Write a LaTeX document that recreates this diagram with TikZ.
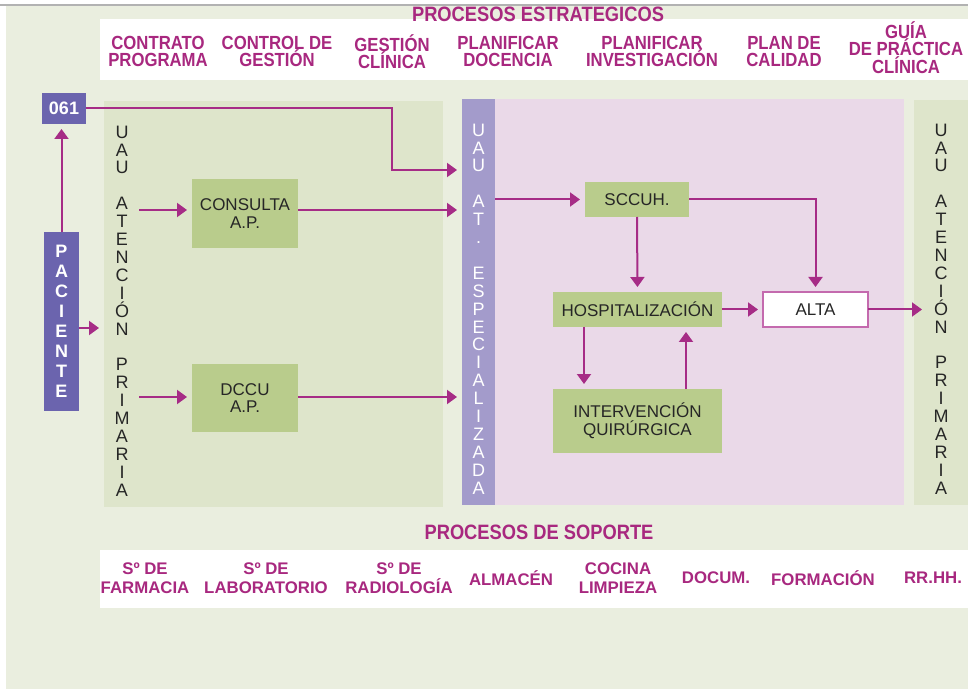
\documentclass[tikz,border=0pt]{standalone}
\usepackage{fontspec}
\setmainfont{Liberation Sans}
\newfontfamily\condfont[FakeStretch=0.88]{Liberation Sans}
\usetikzlibrary{arrows.meta,positioning}

\definecolor{fondo}{HTML}{EAEEDF}
\definecolor{verdepanel}{HTML}{DEE5CB}
\definecolor{verdecaja}{HTML}{B9CC8C}
\definecolor{moradoosc}{HTML}{6B64AE}
\definecolor{moradocl}{HTML}{A39BCB}
\definecolor{rosapanel}{HTML}{EAD9E8}
\definecolor{titulocol}{HTML}{A8287F}
\definecolor{flechacol}{HTML}{A62C86}
\definecolor{bordealta}{HTML}{C46AAE}

% fixed line spacing, accents or not
\newcommand{\renglonfijo}{\lineskiplimit=-10pt\relax}

\tikzset{
  titulo/.style={text=titulocol,font=\condfont\bfseries\fontsize{10.4}{11}\selectfont,inner sep=0pt},
  estrat/.style={text=titulocol,font={\condfont\bfseries\fontsize{9.5}{8.6}\selectfont\renglonfijo},
    align=center,inner sep=0pt,execute at begin node={\vphantom{ÍÓ}}},
  soporte/.style={text=titulocol,font={\bfseries\fontsize{8.4}{9.5}\selectfont\renglonfijo},
    align=center,inner sep=0pt},
  panel/.style={inner sep=0pt,outer sep=0pt},
  caja/.style={fill=verdecaja,text=black!85,font=\fontsize{8.5}{8.6}\selectfont,align=center,inner sep=0pt,outer sep=0pt},
  vertical/.style={font=\fontsize{9}{8.95}\selectfont,align=center,inner sep=0pt},
  flecha/.style={draw=flechacol,line width=1pt,-{Triangle[length=5pt,width=7pt]},shorten >=2.5pt}
}

\begin{document}
\begin{tikzpicture}[x=0.5pt,y=-0.5pt]
  \useasboundingbox (0,0) rectangle (968,689);

  % Background
  \fill[white] (0,0) rectangle (968,689);
  \fill[fondo] (6,6) rectangle (968,689);
  \draw[gray!60,line width=0.6pt] (0,5) -- (968,5);

  % White bands for the process lists
  \fill[white] (100,19) rectangle (968,80);
  \fill[white] (100,550) rectangle (968,608);

  % Titles
  \node[titulo] (tit1) at (538,14) {PROCESOS ESTRATEGICOS};
  \node[titulo] (tit2) at (539,532) {PROCESOS DE SOPORTE};

  % Strategic processes
  \foreach \txt/\x/\y [count=\i] in {{CONTRATO\\PROGRAMA}/158/51.8,
      {CONTROL DE\\GESTIÓN}/277/51.8, {GESTIÓN\\CLÍNICA}/392/51.8,
      {PLANIFICAR\\DOCENCIA}/508/51.8, {PLANIFICAR\\INVESTIGACIÓN}/652/51.8,
      {PLAN DE\\CALIDAD}/784/51.8, {GUÍA\\DE PRÁCTICA\\CLÍNICA}/906/47.5}
    \node[estrat] (est\i) at (\x,\y) {\txt};

  % Support processes
  \foreach \txt/\x [count=\i] in {{Sº DE\\FARMACIA}/145, {Sº DE\\LABORATORIO}/266,
      {Sº DE\\RADIOLOGÍA}/399, {ALMACÉN}/511, {COCINA\\LIMPIEZA}/618,
      {DOCUM.}/716, {FORMACIÓN}/823, {RR.HH.}/933}
    \node[soporte] (sop\i) at (\x,578) {\txt};

  % Panels
  \node[panel,fill=verdepanel,minimum width=169.5pt,minimum height=203pt] (prim) at (273.5,304) {};
  \node[panel,fill=rosapanel,minimum width=204.5pt,minimum height=203pt] (rosa) at (699.5,302) {};
  \node[panel,fill=moradocl,minimum width=16.5pt,minimum height=203pt] (espe) at (478.5,302) {};
  \node[panel,fill=verdepanel,minimum width=27pt,minimum height=202.5pt] (prim2) at (941,302.5) {};

  % Vertical labels
  \node[vertical,text=black!85] (vprim) at (122,311)
    {U\\A\\U\\[8.95pt]A\\T\\E\\N\\C\\I\\Ó\\N\\[8.95pt]P\\R\\I\\M\\A\\R\\I\\A};
  \node[vertical,text=white] (vespe) at (478.5,309)
    {U\\A\\U\\[8.95pt]A\\T\\.\\[8.95pt]E\\S\\P\\E\\C\\I\\A\\L\\I\\Z\\A\\D\\A};
  \node[vertical,text=black!85] (vprim2) at (941,309)
    {U\\A\\U\\[8.95pt]A\\T\\E\\N\\C\\I\\Ó\\N\\[8.95pt]P\\R\\I\\M\\A\\R\\I\\A};

  % Patient and 061
  \node[panel,fill=moradoosc,text=white,font=\bfseries\fontsize{9}{10}\selectfont,
    minimum width=22pt,minimum height=15.5pt] (n061) at (64,108.5) {061};
  \node[panel,fill=moradoosc,text=white,font=\bfseries\fontsize{9}{10}\selectfont,align=center,
    minimum width=17.5pt,minimum height=89.5pt] (pac) at (61.5,321.5)
    {P\\A\\C\\I\\E\\N\\T\\E};

  % Boxes
  \node[caja,minimum width=53pt,minimum height=34.5pt] (cons) at (245,213.5) {CONSULTA\\A.P.};
  \node[caja,minimum width=53pt,minimum height=34pt] (dccu) at (245,398) {DCCU\\A.P.};
  \node[caja,minimum width=52pt,minimum height=17.5pt] (sccuh) at (637,199.5) {SCCUH.};
  \node[caja,minimum width=84.5pt,minimum height=17.5pt] (hosp) at (637.5,309.5) {HOSPITALIZACIÓN};
  \node[caja,fill=white,draw=bordealta,line width=0.6pt,minimum width=52.5pt,minimum height=17.5pt] (alta) at (815.5,309.5) {ALTA};
  \node[caja,font=\fontsize{8.5}{9}\selectfont,minimum width=84.5pt,minimum height=32pt] (int) at (637.5,421) {INTERVENCIÓN\\QUIRÚRGICA};

  % Helper points
  \coordinate (entrada) at (104,328);
  \coordinate (codo) at (392,170);
  \coordinate (c1) at (139,210);
  \coordinate (c2) at (139,397);

  % Arrows
  \draw[flecha] (pac.north) -- (pac.north |- n061.south);
  \draw[flecha] (pac.east |- entrada) -- (entrada);
  \draw[flecha] (n061.east) -| (codo) -- (codo -| espe.west);
  \draw[flecha] (c1) -- (c1 -| cons.west);
  \draw[flecha] (c1 -| cons.east) -- (c1 -| espe.west);
  \draw[flecha] (c2) -- (c2 -| dccu.west);
  \draw[flecha] (c2 -| dccu.east) -- (c2 -| espe.west);
  \draw[flecha] (espe.east |- sccuh.west) -- (sccuh.west);
  \draw[flecha] (sccuh.south) -- (hosp.north);
  \draw[flecha] (sccuh.east) -| (alta.north);
  \draw[flecha] (hosp.east) -- (alta.west);
  \draw[flecha,shorten >=-4pt] (alta.east) -- (alta.east -| prim2.west);
  \draw[flecha] ([xshift=-26.75pt]hosp.south) -- ([xshift=-26.75pt]int.north);
  \draw[flecha] ([xshift=24.25pt]int.north) -- ([xshift=24.25pt]hosp.south);

\end{tikzpicture}
\end{document}
